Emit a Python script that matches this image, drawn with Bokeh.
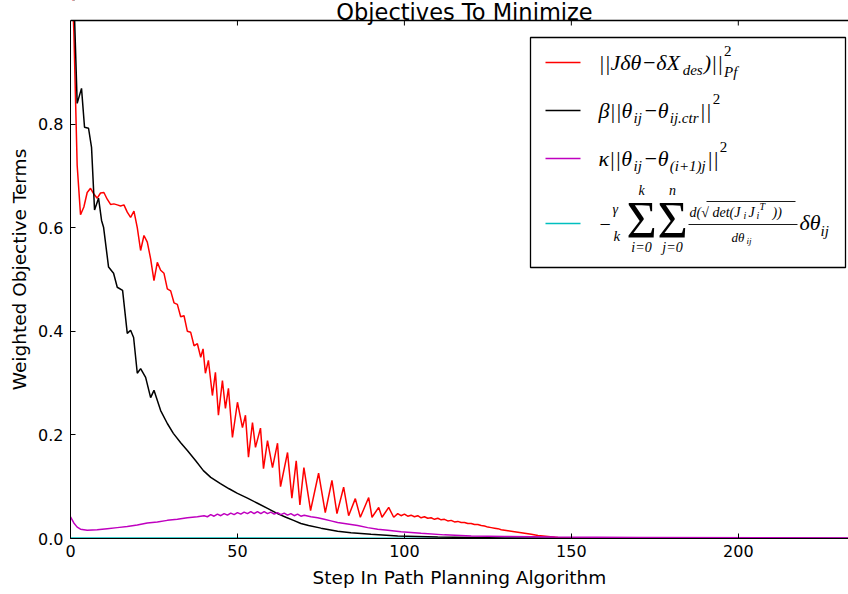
from bokeh.plotting import figure
from bokeh.models import Label, BoxAnnotation, Span, FixedTicker
from bokeh.embed import file_html
from bokeh.resources import INLINE

# ---------------- data ----------------
red_x = [0, 1, 2, 3, 4, 5, 6, 7, 8, 9, 10, 11, 12, 13, 14, 15, 16, 17, 18, 19,
         20, 21, 22, 23, 24, 25, 26, 27, 28, 29, 30, 31, 32, 33, 34, 35, 36, 37, 38, 39, 39.7,
         40.4, 41.3, 42.5, 43.4, 44.3, 45.5, 46.4, 47.3, 48.5, 50, 51.5, 52.4, 53.3, 54.5,
         55.4, 56.9, 57.8, 59, 60.5, 62, 62.9, 65, 66.3, 67.6, 68.7, 69.9, 71.9, 74.3, 76.3,
         78.3, 79.8, 81.8, 83.3, 85.3, 86.8, 89.3, 90.3, 92.3, 93.3, 95.3, 96.8,
         98, 99, 100, 101, 102, 103, 104, 105, 106, 107, 108, 109, 110, 111, 112, 113, 114,
         115, 116, 117, 118, 119, 120, 121, 122, 123, 124, 125, 126, 127, 128, 129, 130,
         131, 132, 133, 134, 136, 138, 140, 143, 146, 150, 160, 175, 200, 233]
red_y = [1.15, 0.98, 0.72, 0.625, 0.64, 0.668, 0.676, 0.665, 0.657, 0.667, 0.668, 0.655,
         0.645, 0.646, 0.644, 0.642, 0.644, 0.63, 0.62, 0.632,
         0.60, 0.556, 0.585, 0.572, 0.54, 0.498, 0.533, 0.518, 0.512, 0.482, 0.478, 0.455,
         0.452, 0.428, 0.43, 0.40, 0.398, 0.372, 0.376, 0.35, 0.366,
         0.319, 0.344, 0.276, 0.321, 0.238, 0.305, 0.251, 0.29, 0.195, 0.263, 0.214, 0.238,
         0.157, 0.224, 0.176, 0.213, 0.135, 0.189, 0.137, 0.184, 0.10, 0.166, 0.078, 0.15,
         0.065, 0.137, 0.054, 0.126, 0.05, 0.112, 0.048, 0.099, 0.044, 0.077, 0.041, 0.079,
         0.041, 0.06, 0.041, 0.06, 0.041,
         0.048, 0.044, 0.047, 0.043, 0.045, 0.042, 0.044, 0.040, 0.042, 0.039, 0.040, 0.037,
         0.039, 0.036, 0.037, 0.034, 0.035, 0.032, 0.033, 0.031, 0.031, 0.029, 0.029, 0.027,
         0.027, 0.025, 0.024, 0.022, 0.021, 0.020, 0.019, 0.017, 0.016, 0.015, 0.014, 0.013,
         0.012, 0.010, 0.008, 0.006, 0.004, 0.002, 0.001, 0.0005, 0.0003, 0.0002, 0.0001]

black_x = [0, 1, 2, 3.3, 4.2, 5.4, 6.3, 7.2, 8.4, 9.3, 9.9, 11.4, 12.9, 14, 15.6, 17, 18,
           18.9, 20, 21, 22.5, 24, 25, 27, 29, 30.8, 33, 35, 37.5, 39.8, 42, 44.9, 47.5,
           50, 53, 56, 59, 62, 64.5, 66.8, 69, 71.3, 75, 80, 84, 90, 98, 110, 130, 160, 233]
black_y = [1.3, 1.05, 0.84, 0.869, 0.794, 0.792, 0.755, 0.634, 0.657, 0.614, 0.601, 0.524,
           0.512, 0.485, 0.479, 0.396, 0.402, 0.388, 0.319, 0.328, 0.311, 0.272, 0.286, 0.247,
           0.222, 0.203, 0.185, 0.17, 0.15, 0.131, 0.118, 0.106, 0.096, 0.087, 0.078, 0.068,
           0.058, 0.048, 0.041, 0.035, 0.029, 0.025, 0.02, 0.014, 0.011, 0.008, 0.005, 0.003,
           0.001, 0.0005, 0.0002]

magenta_x = [0, 1, 2, 3, 5, 8, 11, 14, 17, 20, 23, 26, 29, 32, 35, 38, 40, 41, 42, 43, 44,
             45, 46, 47, 48, 49, 50, 51, 52, 53, 54, 55, 56, 57, 58, 59, 60, 61, 62, 63, 64,
             65, 66, 67, 68, 69, 70, 72, 74, 76, 78, 80, 83, 86, 89, 92, 95, 99, 105, 112,
             120, 130, 145, 170, 233]
magenta_y = [0.042, 0.03, 0.022, 0.018, 0.016, 0.017, 0.019, 0.021, 0.023, 0.026, 0.03,
             0.032, 0.035, 0.037, 0.04, 0.042, 0.044, 0.042, 0.046, 0.043, 0.047, 0.044,
             0.048, 0.045, 0.049, 0.046, 0.05, 0.047, 0.051, 0.048, 0.052, 0.048, 0.052,
             0.048, 0.052, 0.048, 0.051, 0.047, 0.05, 0.046, 0.049, 0.045, 0.048, 0.044,
             0.047, 0.043, 0.045, 0.042, 0.04, 0.037, 0.034, 0.031, 0.028, 0.025, 0.021,
             0.018, 0.016, 0.013, 0.01, 0.007, 0.005, 0.004, 0.003, 0.002, 0.001]

cyan_x = [0, 50, 100, 150, 200, 233]
cyan_y = [0.001, 0.001, 0.0005, 0.0003, 0.0002, 0.0001]

x_ticks = [0, 50, 100, 150, 200]
y_ticks = [0.0, 0.2, 0.4, 0.6, 0.8]

title_text = "Objectives To Minimize"

# ---------------- figure ----------------
X_END = 233.0
FL, FR, FB = 70.0, 848.0, 538.0
PX_PER_UNIT_Y = 518.0          # pixels between y=0 and y=1
Y_END = FB / PX_PER_UNIT_Y      # frame reaches the top of the canvas; title lives above y=1


def px2x(px):
    return (px - FL) / (FR - FL) * X_END


def py2y(py):
    return (FB - py) / PX_PER_UNIT_Y


p = figure(width=848, height=594, x_range=(0, X_END), y_range=(0, Y_END),
           output_backend="svg", toolbar_location=None,
           min_border_left=70, min_border_right=0, min_border_top=0, min_border_bottom=56)
p.grid.visible = False
p.outline_line_color = None
p.background_fill_color = "white"
p.border_fill_color = "white"

for ax in (p.xaxis[0], p.yaxis[0]):
    ax.major_tick_in = 5
    ax.major_tick_out = 0
    ax.minor_tick_line_color = None
    ax.axis_line_color = "black"
    ax.major_tick_line_color = "black"
    ax.major_label_text_font = "DejaVu Sans"
    ax.major_label_text_font_size = "16px"
    ax.major_label_text_color = "black"
    ax.axis_label_text_font = "DejaVu Sans"
    ax.axis_label_text_font_size = "18.5px"
    ax.axis_label_text_font_style = "normal"
    ax.axis_label_text_color = "black"

p.yaxis.bounds = (0, 1.0)
p.xaxis.ticker = FixedTicker(ticks=x_ticks)
p.yaxis.ticker = FixedTicker(ticks=y_ticks)
p.yaxis.major_label_overrides = {t: f"{t:.1f}" for t in y_ticks}
p.xaxis.axis_label = "Step In Path Planning Algorithm"
p.yaxis.axis_label = "Weighted Objective Terms"
p.xaxis.major_label_standoff = 6
p.yaxis.major_label_standoff = 7
p.xaxis.axis_label_standoff = 7
p.yaxis.axis_label_standoff = 5

RED, BLACK, MAG, CYAN = "#ff0000", "#000000", "#bf00bf", "#00bfbf"
LW = 1.5
p.line(cyan_x, cyan_y, line_color=CYAN, line_width=LW)
p.line(red_x, red_y, line_color=RED, line_width=LW)
p.line(black_x, black_y, line_color=BLACK, line_width=LW)
p.line(magenta_x, magenta_y, line_color=MAG, line_width=LW)

# white mask above y=1 (clips the curves like the axes box does), then the top spine
p.add_layout(BoxAnnotation(bottom=1.0, fill_color="white", fill_alpha=1.0,
                           line_color=None, level="annotation"))
p.add_layout(Span(location=1.0, dimension="width", line_color="black", line_width=1.5,
                  level="overlay"))
# inward tick marks on the top spine (mirror of the bottom ticks)
tick_len = 5.0 / PX_PER_UNIT_Y
p.segment(x0=x_ticks, y0=[1.0] * len(x_ticks), x1=x_ticks,
          y1=[1.0 - tick_len] * len(x_ticks), line_color="black", line_width=1,
          level="overlay")

# title
p.add_layout(Label(x=px2x(464), y=py2y(11), text=title_text, text_font="DejaVu Sans",
                   text_font_size="22.5px", text_align="center", text_baseline="middle",
                   text_color="black", level="overlay"))

# ---------------- legend (drawn by hand) ----------------
p.add_layout(BoxAnnotation(left=px2x(530), right=px2x(845), top=py2y(37), bottom=py2y(267),
                           fill_color="white", fill_alpha=1.0, line_color="black",
                           line_alpha=1.0, line_width=1.3, level="annotation"))

SERIF = "Liberation Serif"
W = {'|': 0.275, 'J': 0.444, 'δ': 0.5, 'θ': 0.5, '−': 0.675, 'X': 0.611, ')': 0.333,
     '(': 0.333, 'β': 0.5, 'κ': 0.5, 'i': 0.278, 'j': 0.278, '.': 0.25, 'c': 0.444,
     't': 0.278, 'r': 0.389, 'd': 0.5, 'e': 0.444, 's': 0.389, 'P': 0.611, 'f': 0.278,
     '2': 0.5, '1': 0.5, '+': 0.675, '=': 0.675, '0': 0.5, 'k': 0.444, 'n': 0.5}


def tw(text, size):
    return sum(W.get(c, 0.5) for c in text) * size


def lab(text, px, py, size, italic=True, align="left", baseline="middle"):
    p.add_layout(Label(x=px2x(px), y=py2y(py), text=text, text_font=SERIF,
                       text_font_size=f"{size}px",
                       text_font_style="italic" if italic else "normal",
                       text_align=align, text_baseline=baseline, text_color="black",
                       level="overlay"))


def run(pieces, px, py):
    for text, size, dy, italic, advance in pieces:
        lab(text, px, py + dy, size, italic)
        if advance:
            px += tw(text, size) + 1
    return px


def seg(px0, px1, py, color, width=1.5):
    p.segment(x0=[px2x(px0)], y0=[py2y(py)], x1=[px2x(px1)], y1=[py2y(py)],
              line_color=color, line_width=width, level="overlay")


seg(545, 580, 62, RED)
seg(545, 580, 110, BLACK)
seg(545, 580, 158, MAG)
seg(545, 580, 223, CYAN)

M, S = 22, 15
# item 1
run([("||Jδθ−δX", M, 0, True, True), ("des", S, 7, True, True), (")||", M, 0, True, True),
     ("2", S, -12, False, False), ("Pf", S, 9, True, True)], 598, 62)
# item 2
run([("β||θ", M, 0, True, True), ("ij", S, 7, True, True), ("−θ", M, 0, True, True),
     ("ij.ctr", S, 7, True, True), ("||", M, 0, True, True), ("2", S, -12, False, True)],
    598, 110)
# item 3
run([("κ||θ", M, 0, True, True), ("ij", S, 7, True, True), ("−θ", M, 0, True, True),
     ("(i+1)j", S, 7, True, True), ("||", M, 0, True, True), ("2", S, -12, False, True)],
    598, 158)
# item 4
lab("−", 599, 223, 20, italic=False)
lab("γ", 612, 209, 14)
lab("k", 613, 235, 15)
lab("Σ", 626, 220, 52, italic=False)
lab("k", 641, 190, 14, align="center")
lab("i=0", 641, 247, 14, align="center")
lab("Σ", 657, 220, 52, italic=False)
lab("n", 672, 190, 14, align="center")
lab("j=0", 672, 247, 14, align="center")
lab("d(√", 689, 212, 14)
lab("det(J", 712, 212, 14)
lab("i", 743, 215, 10)
lab("J", 748, 212, 14)
lab("i", 756, 215, 10)
lab("T", 759, 206, 10)
lab("))", 772, 212, 14)
seg(706, 795, 201, "black", 0.9)
seg(688, 797, 224, "black", 0.9)
lab("dθ", 731, 237, 13)
lab("ij", 746, 240, 9)
lab("δθ", 799, 222, M)
lab("ij", 820, 230, S)

open("out.html", "w").write(file_html(p, INLINE))
